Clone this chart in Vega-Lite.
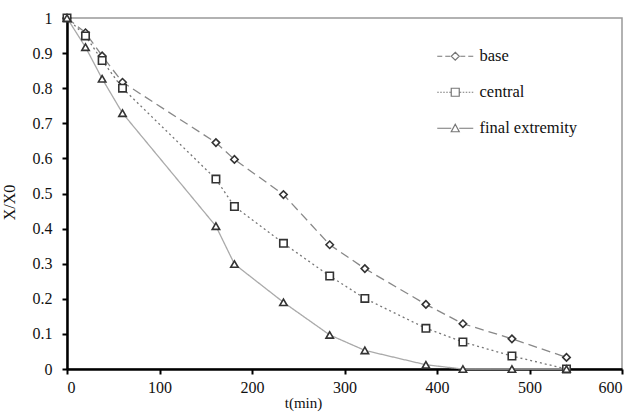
{
  "$schema": "https://vega.github.io/schema/vega-lite/v6.json",
  "width": 555,
  "height": 351,
  "autosize": "none",
  "padding": {"left": 67, "top": 18, "right": 17, "bottom": 43},
  "background": "white",
  "config": {
    "font": "Liberation Serif, serif",
    "view": {"stroke": "#999", "strokeWidth": 1.5},
    "axis": {"grid": false, "domainColor": "black", "domainWidth": 2.5, "tickColor": "black", "tickWidth": 2, "tickSize": 5, "labelFont": "Liberation Serif, serif", "labelFontSize": 16, "labelColor": "#111", "titleFont": "Liberation Serif, serif", "titleFontSize": 16, "titleFontWeight": "normal", "titleColor": "#111"}
  },
  "data": {"values": [
    {"t": 0, "v": 1, "s": "base"},
    {"t": 20, "v": 0.958, "s": "base"},
    {"t": 38, "v": 0.892, "s": "base"},
    {"t": 60, "v": 0.817, "s": "base"},
    {"t": 161, "v": 0.645, "s": "base"},
    {"t": 181, "v": 0.597, "s": "base"},
    {"t": 234, "v": 0.497, "s": "base"},
    {"t": 284, "v": 0.354, "s": "base"},
    {"t": 322, "v": 0.286, "s": "base"},
    {"t": 388, "v": 0.184, "s": "base"},
    {"t": 428, "v": 0.129, "s": "base"},
    {"t": 481, "v": 0.086, "s": "base"},
    {"t": 540, "v": 0.033, "s": "base"},
    {"t": 0, "v": 1, "s": "central"},
    {"t": 20, "v": 0.949, "s": "central"},
    {"t": 38, "v": 0.879, "s": "central"},
    {"t": 60, "v": 0.8, "s": "central"},
    {"t": 161, "v": 0.541, "s": "central"},
    {"t": 181, "v": 0.463, "s": "central"},
    {"t": 234, "v": 0.358, "s": "central"},
    {"t": 284, "v": 0.265, "s": "central"},
    {"t": 322, "v": 0.201, "s": "central"},
    {"t": 388, "v": 0.116, "s": "central"},
    {"t": 428, "v": 0.077, "s": "central"},
    {"t": 481, "v": 0.037, "s": "central"},
    {"t": 540, "v": 0.0, "s": "central"},
    {"t": 0, "v": 1, "s": "final extremity"},
    {"t": 20, "v": 0.917, "s": "final extremity"},
    {"t": 38, "v": 0.827, "s": "final extremity"},
    {"t": 60, "v": 0.729, "s": "final extremity"},
    {"t": 161, "v": 0.407, "s": "final extremity"},
    {"t": 181, "v": 0.299, "s": "final extremity"},
    {"t": 234, "v": 0.19, "s": "final extremity"},
    {"t": 284, "v": 0.097, "s": "final extremity"},
    {"t": 322, "v": 0.053, "s": "final extremity"},
    {"t": 388, "v": 0.012, "s": "final extremity"},
    {"t": 428, "v": 0.0, "s": "final extremity"},
    {"t": 481, "v": 0.0, "s": "final extremity"},
    {"t": 540, "v": 0.0, "s": "final extremity"}
  ]},
  "encoding": {
    "x": {"field": "t", "type": "quantitative", "scale": {"domain": [0, 600], "nice": false}, "axis": {"values": [0, 100, 200, 300, 400, 500, 600], "title": "t(min)", "titleFontSize": 15, "titlePadding": 0, "labelPadding": 5, "titleX": 236, "titleAnchor": "start", "titleAlign": "center"}},
    "y": {"field": "v", "type": "quantitative", "scale": {"domain": [0, 1], "nice": false}, "axis": {"values": [0, 0.1, 0.2, 0.3, 0.4, 0.5, 0.6, 0.7, 0.8, 0.9, 1], "format": ".1~f", "title": "X/X0", "titlePadding": 15, "labelPadding": 10, "titleY": 184}}
  },
  "layer": [
    {
      "mark": {"type": "line", "interpolate": "linear", "strokeWidth": 1.3},
      "encoding": {
        "detail": {"field": "s"},
        "color": {"field": "s", "type": "nominal", "scale": {"domain": ["base", "central", "final extremity"], "range": ["#888", "#777", "#aaa"]}, "legend": null},
        "strokeDash": {"field": "s", "type": "nominal", "scale": {"domain": ["base", "central", "final extremity"], "range": [[9, 5], [2, 3], [1, 0]]}, "legend": null}
      }
    },
    {
      "mark": {"type": "point", "filled": false, "fill": "white", "fillOpacity": 1, "stroke": "#333", "strokeWidth": 1.6, "opacity": 1},
      "encoding": {
        "shape": {"field": "s", "type": "nominal", "scale": {"domain": ["base", "central", "final extremity"], "range": ["diamond", "square", "triangle-up"]}, "legend": null},
        "size": {"value": 55}
      }
    },
    {
      "transform": [{"filter": "datum.t < 0"}],
      "mark": {"type": "point", "filled": false, "stroke": "#777", "strokeWidth": 1.2, "opacity": 1},
      "encoding": {
        "shape": {"field": "s", "type": "nominal", "scale": {"domain": ["base", "central", "final extremity"], "range": [
          "M-3.6,0H-2.6M-2,0H-1M1,0H2M2.6,0H3.6M0,-0.8L0.8,0L0,0.8L-0.8,0Z",
          "M-3.6,0H-3.3M-3,0H-2.7M-2.4,0H-2.1M-1.8,0H-1.5M-1.2,0H-0.9M0.9,0H1.2M1.5,0H1.8M2.1,0H2.4M2.7,0H3M3.3,0H3.6M-0.8,-0.8H0.8V0.8H-0.8Z",
          "M-3.6,0H-0.8M0.8,0H3.6M0,-0.8L0.8,0.7H-0.8Z"]},
          "legend": {
            "title": null, "orient": "none", "legendX": 372, "legendY": 30,
            "labelFont": "Liberation Serif, serif", "labelFontSize": 16.5, "labelColor": "#111",
            "symbolSize": 100, "rowPadding": 19, "labelOffset": 16, "symbolOffset": 8,
            "symbolStrokeColor": "#777", "symbolStrokeWidth": 1.2, "symbolOpacity": 1
          }
        },
        "size": {"value": 100}
      }
    }
  ],
  "resolve": {"scale": {"shape": "independent"}, "legend": {"shape": "independent", "color": "independent", "strokeDash": "independent"}}
}
